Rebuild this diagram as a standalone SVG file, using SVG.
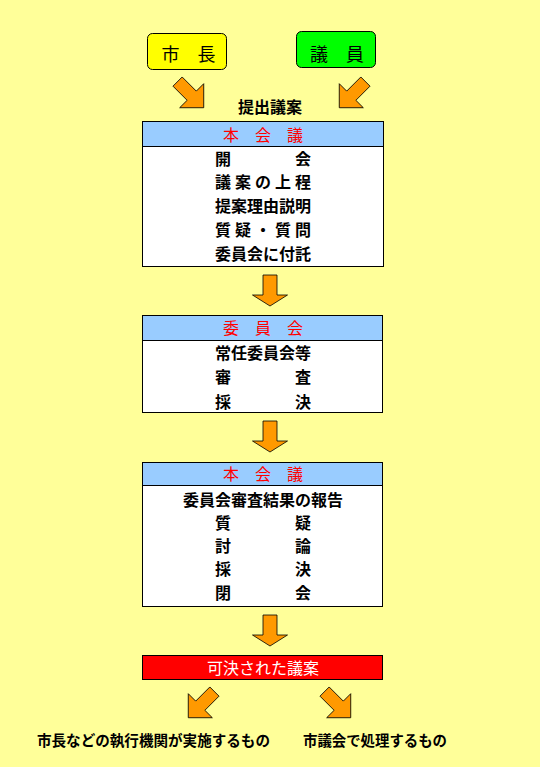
<svg xmlns="http://www.w3.org/2000/svg" width="540" height="767" viewBox="0 0 540 767">
<style>
text{font-family:"Noto Sans CJK JP","Noto Sans CJK SC",sans-serif;dominant-baseline:central;fill:#000}
.hd{fill:#FF0000;font-size:16px;text-anchor:middle}
.row{font-size:16px;font-weight:bold}
.box{fill:#FFFFFF;stroke:#000;stroke-width:1}
.head{fill:#99CCFF;stroke:#000;stroke-width:1}
.arr{fill:#FF9900;stroke:#000;stroke-width:0.8}
</style>
<defs>
<polygon id="down" points="-7,-16 7,-16 7,4 17.5,4 0,15 -17.5,4 -7,4"/>
<polygon id="diag" points="-6.5,-19 6.5,-19 6.5,1 17,1 0,18 -17,1 -6.5,1"/>
</defs>
<rect x="0" y="0" width="540" height="767" fill="#FFFF99"/>

<g id="mayor">
<rect x="147.5" y="33.5" width="79" height="36" rx="5" fill="#FFFF00" stroke="#000"/>
<text x="188.5" y="53" font-size="18" text-anchor="middle">市　長</text>
</g>
<g id="member">
<rect x="296.5" y="31.5" width="79" height="36" rx="5" fill="#00FF00" stroke="#000"/>
<text x="337" y="53" font-size="18" text-anchor="middle">議　員</text>
</g>
<g id="label-teishutsu">
<text x="270" y="106" font-size="16" font-weight="bold" text-anchor="middle">提出議案</text>
</g>

<g id="plenary1">
<rect class="box" x="142.5" y="121.5" width="241" height="145"/>
<rect class="head" x="142.5" y="121.5" width="241" height="25"/>
<text class="hd" x="263" y="134">本　会　議</text>
<text class="row" x="215" y="158">開　　　　会</text>
<text class="row" x="215" y="181" textLength="96" lengthAdjust="spacing">議案の上程</text>
<text class="row" x="215" y="205">提案理由説明</text>
<text class="row" x="215" y="229" textLength="96" lengthAdjust="spacing">質疑・質問</text>
<text class="row" x="215" y="253">委員会に付託</text>
</g>

<g id="committee">
<rect class="box" x="142.5" y="315.5" width="240" height="97"/>
<rect class="head" x="142.5" y="315.5" width="240" height="25"/>
<text class="hd" x="263" y="327">委　員　会</text>
<text class="row" x="215" y="352">常任委員会等</text>
<text class="row" x="215" y="376">審　　　　査</text>
<text class="row" x="215" y="401">採　　　　決</text>
</g>

<g id="plenary2">
<rect class="box" x="142.5" y="462.5" width="240" height="144"/>
<rect class="head" x="142.5" y="462.5" width="240" height="23"/>
<text class="hd" x="263" y="473">本　会　議</text>
<text class="row" x="263" y="499" text-anchor="middle">委員会審査結果の報告</text>
<text class="row" x="215" y="522">質　　　　疑</text>
<text class="row" x="215" y="545">討　　　　論</text>
<text class="row" x="215" y="568">採　　　　決</text>
<text class="row" x="215" y="592">閉　　　　会</text>
</g>

<g id="approved">
<rect x="142.5" y="655.5" width="240" height="24" fill="#FF0000" stroke="#000"/>
<text x="263" y="667" font-size="16" text-anchor="middle" style="fill:#FFFFFF">可決された議案</text>
</g>

<g id="executive">
<text x="37" y="739" font-size="14.5" font-weight="bold" textLength="233" lengthAdjust="spacingAndGlyphs">市長などの執行機関が実施するもの</text>
</g>
<g id="council">
<text x="303" y="739" font-size="14.5" font-weight="bold" textLength="144" lengthAdjust="spacingAndGlyphs">市議会で処理するもの</text>
</g>

<g id="connectors">
<use href="#diag" class="arr" transform="translate(191,95) rotate(-45)"/>
<use href="#diag" class="arr" transform="translate(352,95) rotate(45)"/>
<use href="#down" class="arr" transform="translate(270,291)"/>
<use href="#down" class="arr" transform="translate(270,437)"/>
<use href="#down" class="arr" transform="translate(270,631)"/>
<use href="#diag" class="arr" transform="translate(201,705) rotate(45)"/>
<use href="#diag" class="arr" transform="translate(338,705) rotate(-45)"/>
</g>
</svg>
